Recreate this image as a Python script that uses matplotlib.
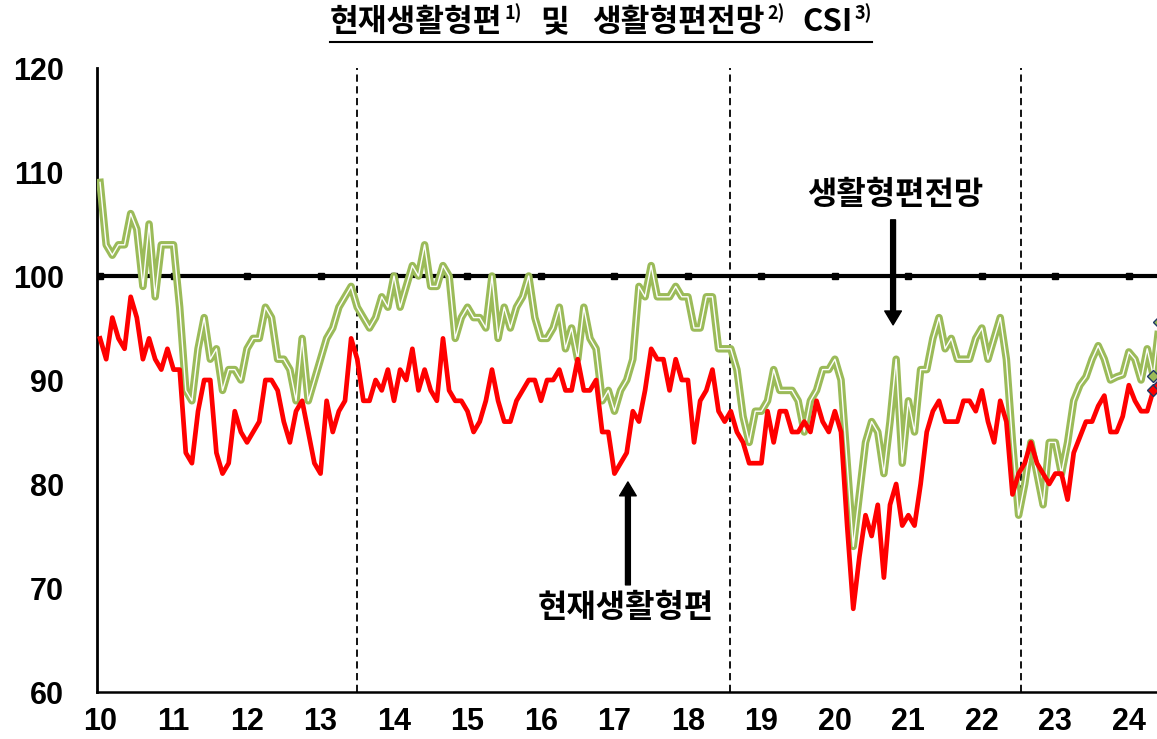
import matplotlib
matplotlib.use('Agg')
import matplotlib.pyplot as plt
import numpy as np

plt.rcParams['font.family'] = ['Liberation Sans', 'Noto Sans CJK KR', 'DejaVu Sans']
KR = ['Noto Sans CJK KR', 'DejaVu Sans']

# 연도 눈금 (2010 ~ 2024)
year_labels = ['10', '11', '12', '13', '14', '15', '16', '17', '18', '19', '20', '21', '22', '23', '24']

# 현재생활형편 CSI, 2010.1 ~ 2024.6 (월별)
current = [94, 92, 96, 94, 93, 98, 96, 92, 94, 92, 91, 93,
           91, 91, 83, 82, 87, 90, 90, 83, 81, 82, 87, 85,
           84, 85, 86, 90, 90, 89, 86, 84, 87, 88, 85, 82,
           81, 88, 85, 87, 88, 94, 92, 88, 88, 90, 89, 91,
           88, 91, 90, 93, 89, 91, 89, 88, 94, 89, 88, 88,
           87, 85, 86, 88, 91, 88, 86, 86, 88, 89, 90, 90,
           88, 90, 90, 91, 89, 89, 92, 89, 89, 90, 85, 85,
           81, 82, 83, 87, 86, 89, 93, 92, 92, 89, 92, 90,
           90, 84, 88, 89, 91, 87, 86, 87, 85, 84, 82, 82,
           82, 87, 84, 87, 87, 85, 85, 86, 85, 88, 86, 85,
           87, 85, 76, 68, 73, 77, 75, 78, 71, 78, 80, 76,
           77, 76, 80, 85, 87, 88, 86, 86, 86, 88, 88, 87,
           89, 86, 84, 88, 86, 79, 81, 82, 84, 82, 81, 80,
           81, 81, 78.5, 83, 84.5, 86, 86, 87.5, 88.5, 85, 85, 86.5,
           89.5, 88, 87, 87, 89, 89.5]

# 생활형편전망 CSI
outlook = [109, 103, 102, 103, 103, 106, 104.5, 99, 105, 98, 103, 103,
           103, 97, 89, 88, 93, 96, 92, 93, 89, 91, 91, 90,
           93, 94, 94, 97, 96, 92, 92, 91, 88, 94, 88, 90,
           92, 94, 95, 97, 98, 99, 97, 96, 95, 96, 98, 97,
           100, 97, 99, 101, 100, 103, 99, 99, 101, 100, 94, 96,
           97, 96, 96, 95, 100, 94, 97, 95, 97, 98, 100, 96,
           94, 94, 95, 97, 93, 95, 92, 97, 94, 93, 88, 89,
           87, 89, 90, 92, 99, 98, 101, 98, 98, 98, 99, 98,
           98, 95, 95, 98, 98, 93, 93, 93, 91, 86.5, 84, 87,
           87, 88, 91, 89, 89, 89, 88, 85, 88, 89, 91, 91,
           92, 90, 82, 74, 79, 84, 86, 85, 81, 86, 92, 82,
           88, 85, 91, 91, 94, 96, 93, 94, 92, 92, 92, 94,
           95, 92, 94, 96, 92, 84, 77, 80, 84, 81, 78, 84,
           84, 81, 84, 88, 89.5, 90.3, 92, 93.3, 92, 90, 90.3, 90.5,
           92.7, 92, 90, 93, 90.4, 95.6]

# 구분선 위치 (월 index)
split_marks = [42, 102.9, 150.4]

months = np.arange(len(current))
year_pos = np.arange(len(year_labels)) * 12

GREEN = '#9BBB59'
NAVY = '#1F3864'

fig = plt.figure(figsize=(11.57, 7.39), dpi=100)
ax = fig.add_axes([97 / 1157, 47 / 739, 1060 / 1157, 624 / 739])

ax.set_xlim(-0.5, 172.6)
ax.set_ylim(60, 120)

# 100 기준선 + 연도 눈금
ax.axhline(100, color='black', lw=3, zorder=2)
ax.plot(year_pos, [100] * len(year_pos), ls='none', marker='s', ms=4,
        color='black', zorder=2)

for xm in split_marks:
    ax.axvline(xm, color='black', lw=1.3, ls=(0, (4, 2.5)), zorder=1)

# 생활형편전망 (이중선)
ax.plot(months, outlook, color=GREEN, lw=5.4, zorder=3)
ax.plot(months, outlook, color='white', lw=1.0, zorder=3)
# 현재생활형편
ax.plot(months, current, color='red', lw=3.4, zorder=4)

ax.plot(months[-2:], outlook[-2:], ls='none', marker='D', ms=6, mfc=GREEN,
        mec=NAVY, mew=1, zorder=5)
ax.plot(months[-2:], current[-2:], ls='none', marker='D', ms=6, mfc='red',
        mec=NAVY, mew=1, zorder=5)

# 축
ax.spines['top'].set_visible(False)
ax.spines['right'].set_visible(False)
ax.spines['left'].set_linewidth(2)
ax.spines['bottom'].set_linewidth(1.8)
ax.set_yticks(range(60, 121, 10))
ax.set_xticks(year_pos)
ax.set_xticklabels(year_labels)
ax.tick_params(axis='both', length=0, labelsize=22)
ax.tick_params(axis='y', pad=24)
ax.tick_params(axis='x', pad=11)
for lab in ax.get_xticklabels() + ax.get_yticklabels():
    lab.set_fontweight('bold')

# 주석 화살표
arrow = dict(facecolor='black', edgecolor='black', width=3.5, headwidth=12, headlength=10)
ax.annotate('', xy=(129.5, 95.3), xytext=(129.5, 105.4), arrowprops=arrow, zorder=6)
ax.text(129.8, 107.8, '생활형편전망', family=KR, fontsize=23, fontweight='bold',
        ha='center', va='center')
ax.annotate('', xy=(86.2, 80.2), xytext=(86.2, 70.3), arrowprops=arrow, zorder=6)
ax.text(85.8, 68.1, '현재생활형편', family=KR, fontsize=23, fontweight='bold',
        ha='center', va='center')

# 제목 (위첨자 포함): 조각별로 폭을 재서 이어 붙임
W, H = 1157, 739
renderer = fig.canvas.get_renderer()
pieces = [  # (text, fontsize, y px, gap before px)
    ('현재생활형편', 22.5, 22, 0),
    ('1)', 13, 13, 2),
    ('및', 22.5, 22, 18),
    ('생활형편전망', 22.5, 22, 24),
    ('2)', 13, 13, 2),
    ('CSI', 22.5, 22, 18),
    ('3)', 13, 13, 2),
]
x = 330
for txt, fs, py, gap in pieces:
    x += gap
    t = fig.text(x / W, 1 - py / H, txt, family=KR, fontsize=fs, fontweight='bold',
                 ha='left', va='center')
    x += t.get_window_extent(renderer).width
fig.add_artist(plt.Line2D([330 / W, x / W], [1 - 42 / H, 1 - 42 / H],
                          color='black', lw=1.5))

fig.savefig('out.png', dpi=100)
